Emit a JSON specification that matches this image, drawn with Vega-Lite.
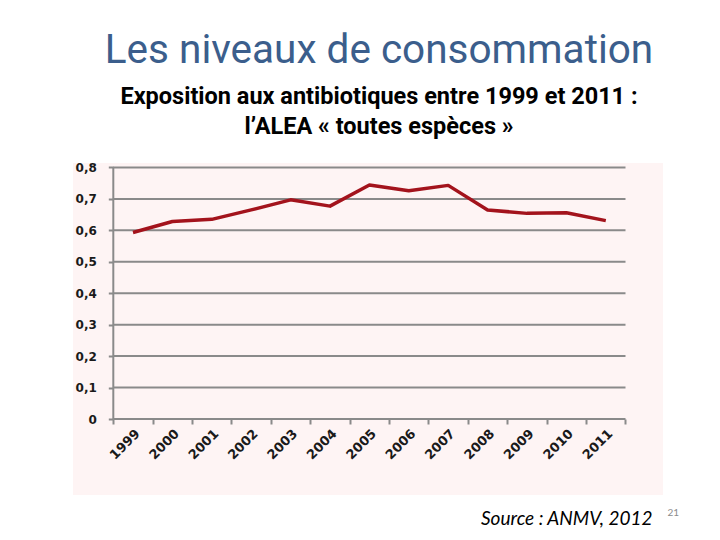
{
  "$schema": "https://vega.github.io/schema/vega-lite/v6.json",
  "autosize": "none",
  "width": 590,
  "height": 332,
  "padding": {"left": 73, "top": 163, "right": 57, "bottom": 45},
  "background": "white",
  "config": {"view": {"stroke": null, "fill": "#FEF4F4"}},
  "title": {
    "text": "Les niveaux de consommation",
    "subtitle": ["Exposition aux antibiotiques entre 1999 et 2011 :", "l’ALEA « toutes espèces »"],
    "anchor": "middle",
    "frame": "group",
    "font": "Roboto",
    "fontSize": 40.5,
    "fontWeight": "normal",
    "color": "#3B5E8C",
    "subtitleFont": "Roboto",
    "subtitleFontSize": 23.5,
    "subtitleFontWeight": "bold",
    "subtitleColor": "black",
    "subtitleLineHeight": 30,
    "subtitlePadding": 13,
    "offset": 23,
    "dx": 11
  },
  "datasets": {
    "consumption": [
      {"year": 1999, "value": 0.593},
      {"year": 2000, "value": 0.628},
      {"year": 2001, "value": 0.635},
      {"year": 2002, "value": 0.665},
      {"year": 2003, "value": 0.697},
      {"year": 2004, "value": 0.677},
      {"year": 2005, "value": 0.744},
      {"year": 2006, "value": 0.726},
      {"year": 2007, "value": 0.743},
      {"year": 2008, "value": 0.665},
      {"year": 2009, "value": 0.654},
      {"year": 2010, "value": 0.656},
      {"year": 2011, "value": 0.631}
    ],
    "gridlines": [
      {"level": 0}, {"level": 0.1}, {"level": 0.2}, {"level": 0.3}, {"level": 0.4},
      {"level": 0.5}, {"level": 0.6}, {"level": 0.7}, {"level": 0.8}
    ]
  },
  "layer": [
    {
      "data": {"name": "gridlines"},
      "mark": {"type": "rule", "color": "#8A8A8A", "strokeWidth": 2},
      "encoding": {
        "y": {"field": "level", "type": "quantitative", "scale": {"domain": [-0.2417, 0.8142], "nice": false, "zero": false}},
        "x": {"datum": 1998.5, "type": "quantitative", "scale": {"domain": [1997.4772, 2012.4518], "nice": false, "zero": false}},
        "x2": {"datum": 2011.5}
      }
    },
    {
      "data": {"values": [{"axisline": "y"}]},
      "mark": {"type": "rule", "color": "#8A8A8A", "strokeWidth": 2},
      "encoding": {
        "x": {"datum": 1998.5, "type": "quantitative", "scale": {"domain": [1997.4772, 2012.4518], "nice": false, "zero": false}},
        "y": {"datum": 0, "type": "quantitative", "scale": {"domain": [-0.2417, 0.8142], "nice": false, "zero": false}},
        "y2": {"datum": 0.8}
      }
    },
    {
      "data": {"name": "consumption"},
      "mark": {"type": "line", "color": "#A3131C", "strokeWidth": 3.5, "strokeJoin": "round"},
      "encoding": {
        "x": {
          "field": "year",
          "type": "quantitative",
          "scale": {"domain": [1997.4772, 2012.4518], "nice": false, "zero": false},
          "axis": {
            "orient": "bottom",
            "offset": -76,
            "values": [1998.5, 1999.5, 2000.5, 2001.5, 2002.5, 2003.5, 2004.5, 2005.5, 2006.5, 2007.5, 2008.5, 2009.5, 2010.5, 2011.5],
            "labelExpr": "datum.value < 2011 ? toString(datum.value + 0.5) : ''",
            "labelOffset": 19.7,
            "labelAngle": -45,
            "labelAlign": "right",
            "labelBaseline": "top",
            "labelPadding": 3,
            "labelFlush": false,
            "labelOverlap": false,
            "labelFont": "DejaVu Sans",
            "labelFontWeight": "bold",
            "labelFontSize": 13,
            "labelColor": "#1A1A1A",
            "tickSize": 5,
            "tickColor": "#8A8A8A",
            "tickWidth": 2,
            "domain": false,
            "grid": false,
            "title": "Source : ANMV, 2012",
            "titleX": 579,
            "titleY": 105,
            "titleAlign": "right",
            "titleBaseline": "alphabetic",
            "titleAngle": 0,
            "titleFont": "Lato",
            "titleFontStyle": "italic",
            "titleFontWeight": "normal",
            "titleFontSize": 19,
            "titleColor": "black"
          }
        },
        "y": {
          "field": "value",
          "type": "quantitative",
          "scale": {"domain": [-0.2417, 0.8142], "nice": false, "zero": false},
          "axis": {
            "orient": "left",
            "offset": -40.3,
            "values": [0, 0.1, 0.2, 0.3, 0.4, 0.5, 0.6, 0.7, 0.8],
            "labelExpr": "datum.value == 0 ? '0' : replace(format(datum.value, '.1f'), '.', ',')",
            "labelPadding": 12,
            "labelFont": "DejaVu Sans",
            "labelFontWeight": "bold",
            "labelFontSize": 12,
            "labelColor": "#1A1A1A",
            "tickSize": 5,
            "tickColor": "#8A8A8A",
            "tickWidth": 2,
            "domain": false,
            "grid": false,
            "title": "21",
            "titleX": 553.7,
            "titleY": 352,
            "titleAngle": 0,
            "titleAlign": "left",
            "titleBaseline": "alphabetic",
            "titleFont": "Lato",
            "titleFontWeight": "normal",
            "titleFontSize": 10,
            "titleColor": "#8C8C8C"
          }
        }
      }
    }
  ]
}
